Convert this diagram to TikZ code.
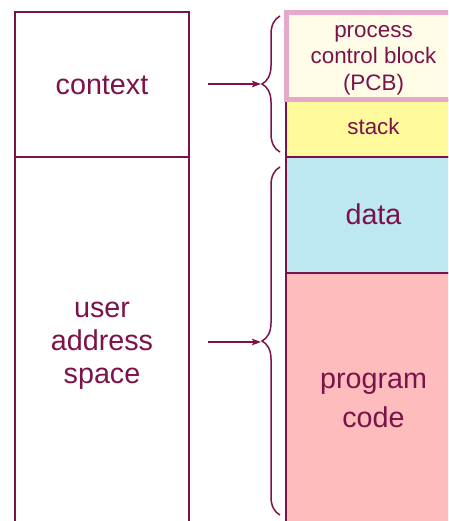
\documentclass[tikz,border=0pt]{standalone}
\usepackage{fontspec}
\setmainfont{Liberation Sans}
\usetikzlibrary{arrows.meta,decorations.pathreplacing}
\definecolor{maroon}{HTML}{7B1249}
\definecolor{pcbborder}{HTML}{E7A9C9}
\definecolor{pcbfill}{HTML}{FFFDE8}
\definecolor{stackfill}{HTML}{FFFA9C}
\definecolor{datafill}{HTML}{BDE7F2}
\definecolor{codefill}{HTML}{FFBCBC}
\tikzset{
  outline/.style={draw=maroon, line width=1.5pt},
  bigtext/.style={text=maroon, font=\fontsize{28.7}{33}\selectfont, inner sep=0pt, align=center},
  smalltext/.style={text=maroon, font=\fontsize{22.4}{26.5}\selectfont, inner sep=0pt, align=center},
  bracestyle/.style={draw=maroon, line width=1.5pt, decorate, decoration={brace, amplitude=18pt}},
  pointer/.style={draw=maroon, line width=1.5pt, -{Stealth[length=9pt,width=6.5pt,inset=1.5pt]}}
}
\begin{document}
\begin{tikzpicture}[x=1pt, y=-1pt]
\useasboundingbox (0,0) rectangle (448,521);
\clip (0,0) rectangle (448,521);
% left column
\path[outline] (15,12) rectangle (189,560);
\path[outline] (15,157) -- (189,157);
% right column
\path[outline, fill=codefill] (286,273) rectangle (480,560);
\path[outline, fill=datafill] (286,157) rectangle (480,273);
\path[outline, fill=stackfill] (286,100) rectangle (480,157);
\path[draw=pcbborder, line width=4.5pt, fill=pcbfill] (286.5,12.5) rectangle (470,99.5);
% texts
\node[bigtext, anchor=base] (ctx) at (102,95) {context};
\node[bigtext, font=\fontsize{28.7}{33}\selectfont] (uas) at (102,345.4) {user\\address\\space};
\node[smalltext] (pcb) at (373.5,60) {process\\control block\\(PCB)};
\node[smalltext, anchor=base] (stk) at (373.5,135) {stack};
\node[bigtext, anchor=base] (dat) at (373.5,224) {data};
\node[bigtext, font=\fontsize{28.7}{39}\selectfont] (code) at (373.5,400) {program\\code};
% braces
\coordinate (b1s) at (280,152);
\coordinate (b1e) at (280,16);
\coordinate (b2s) at (280,515);
\coordinate (b2e) at (280,167);
\path[bracestyle] (b1s) -- (b1e);
\path[bracestyle] (b2s) -- (b2e);
\coordinate (t1) at (261,84);
\coordinate (t2) at (261,342);
\coordinate (s1) at (208,84);
\coordinate (s2) at (208,342);
\path[pointer] (s1) -- (t1);
\path[pointer] (s2) -- (t2);
\end{tikzpicture}
\end{document}
